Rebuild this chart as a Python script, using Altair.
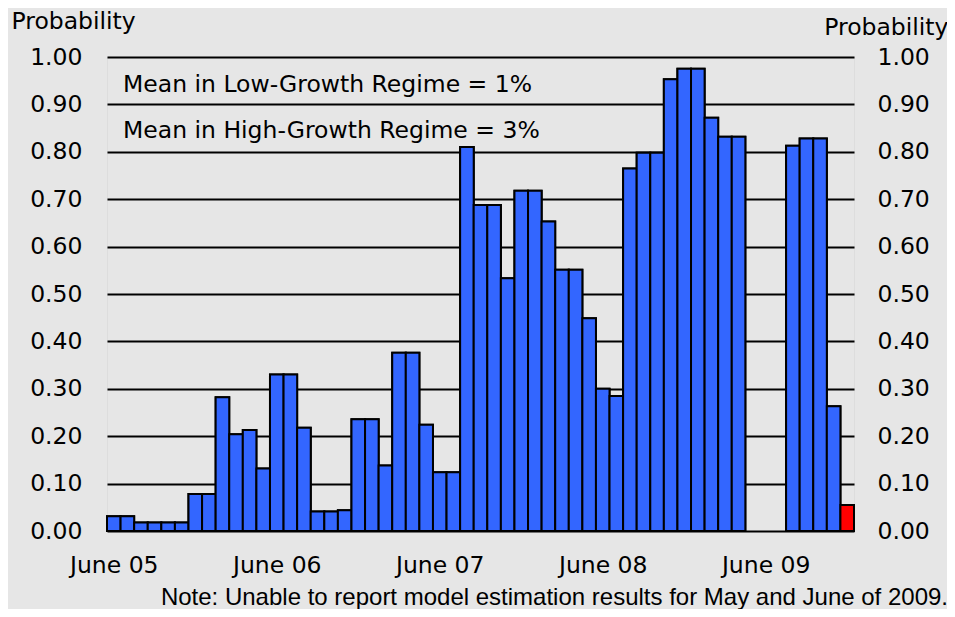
import json
import altair as alt
import pandas as pd

# ---- data ----
months = pd.period_range("2005-06", "2009-12", freq="M").strftime("%Y-%m").tolist()
probability = [
    0.031, 0.031, 0.018, 0.018, 0.018, 0.018, 0.078, 0.078,
    0.282, 0.204, 0.213, 0.132, 0.330, 0.330, 0.218, 0.041, 0.041, 0.044,
    0.236, 0.236, 0.138, 0.376, 0.376, 0.224, 0.124, 0.124,
    0.810, 0.688, 0.688, 0.533, 0.718, 0.718, 0.653, 0.551, 0.551, 0.449, 0.300,
    0.285, 0.765, 0.798, 0.798, 0.953, 0.975, 0.975, 0.872, 0.832, 0.832,
    None, None, None,
    0.813, 0.828, 0.828, 0.263, 0.055,
]
latest_month = "2009-12"
tick_labels = ["June 05", "June 06", "June 07", "June 08", "June 09"]
tick_months = ["2005-06", "2006-06", "2007-06", "2008-06", "2009-06"]
y_ticks = [0.0, 0.1, 0.2, 0.3, 0.4, 0.5, 0.6, 0.7, 0.8, 0.9, 1.0]
annotations = ["Mean in Low-Growth Regime = 1%", "Mean in High-Growth Regime = 3%"]
annotation_y = [0.926, 0.829]
annotation_x = [1.18, 1.18]
note = "Note: Unable to report model estimation results for May and June of 2009."

# ---- tables ----
rows = []
for i, (m, p) in enumerate(zip(months, probability)):
    if p is None:
        continue
    rows.append({"month": m, "start": i, "end": i + 1, "probability": p, "base": 0.0,
                 "kind": "Latest" if m == latest_month else "Estimate"})
df = pd.DataFrame(rows)
ann_df = pd.DataFrame({"label": annotations, "x": annotation_x, "y": annotation_y})

tick_pos = [months.index(m) + 0.5 for m in tick_months]
label_expr = json.dumps(tick_labels) + "[round((datum.value - 0.5) / 12)]"

FONT = "DejaVu Sans"
FS = 23.5

x_scale = alt.Scale(domain=[0, len(months)], nice=False, zero=False)
y_scale = alt.Scale(domain=[0, 1], nice=False, zero=True)

x_axis = alt.Axis(values=tick_pos, labelExpr=label_expr, title=None, grid=False,
                  ticks=False, tickSize=0, domain=False, labelFontSize=FS,
                  labelColor="black", labelBaseline="alphabetic", labelPadding=41,
                  labelAlign="center", labelFlush=False, labelOverlap=False)

common_y = dict(values=y_ticks, format=".2f", titleAngle=0, titleFontSize=FS,
                titleFontWeight="normal", titleColor="black", titleBaseline="alphabetic",
                ticks=False, tickSize=0, domain=False, labelFontSize=FS,
                labelColor="black", labelFlush=False, labelOverlap=False,
                labelBaseline="middle")

left_axis = alt.Axis(orient="left", title="Probability", titleAlign="left",
                     titleX=-96, titleY=-29, grid=True, gridColor="black",
                     gridWidth=2, gridOpacity=1, labelPadding=25, **common_y)
right_axis = alt.Axis(orient="right", title="Probability", titleAlign="right",
                      titleX=94, titleY=-23, grid=False, labelPadding=23,
                      labelAlign="left", **common_y)

color = alt.Color("kind:N", scale=alt.Scale(domain=["Estimate", "Latest"],
                                            range=["#3366ff", "#ff0000"]), legend=None)

base = alt.Chart(df)
bars_left = base.mark_bar(stroke="black", strokeWidth=2).encode(
    x=alt.X("start:Q", scale=x_scale, axis=x_axis),
    x2="end:Q",
    y=alt.Y("probability:Q", scale=y_scale, axis=left_axis),
    y2="base:Q",
    color=color,
)
bars_right = base.mark_bar(stroke="black", strokeWidth=2).encode(
    x=alt.X("start:Q", scale=x_scale, axis=x_axis),
    x2="end:Q",
    y=alt.Y("probability:Q", scale=y_scale, axis=right_axis),
    y2="base:Q",
    color=color,
)
texts = alt.Chart(ann_df).mark_text(align="left", baseline="alphabetic", fontSize=FS,
                                    font=FONT, color="black").encode(
    x=alt.X("x:Q", scale=x_scale, axis=x_axis),
    y=alt.Y("y:Q", scale=y_scale, axis=None),
    text="label:N",
)

chart = alt.layer(bars_left, bars_right, texts).resolve_axis(y="independent").properties(
    width=747, height=474,
    autosize=alt.AutoSizeParams(type="none"),
    padding={"left": 99, "top": 49, "right": 93, "bottom": 78},
    background="#e6e6e6",
    title=alt.TitleParams(text=note, orient="bottom", anchor="end", font="Liberation Sans",
                          fontSize=24, fontWeight="normal", color="black", offset=9),
).configure_view(stroke="black", strokeWidth=2).configure(font=FONT)

chart.save("out.html", embed_options={"renderer": "svg", "actions": False})
